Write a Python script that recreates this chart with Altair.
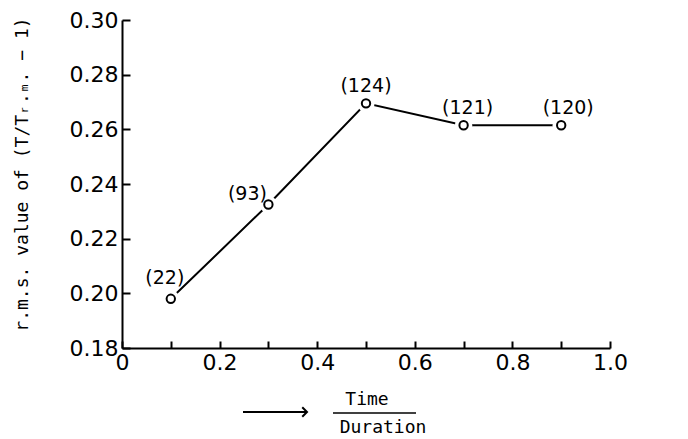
import altair as alt
import pandas as pd

# ---- data ----
x_vals = [0.1, 0.3, 0.5, 0.7, 0.9]
rms_vals = [0.198, 0.2325, 0.2695, 0.2615, 0.2615]
counts = ["(22)", "(93)", "(124)", "(121)", "(120)"]
x_tick_vals = [0.0, 0.1, 0.2, 0.3, 0.4, 0.5, 0.6, 0.7, 0.8, 0.9, 1.0]
x_label_vals = [0.0, 0.2, 0.4, 0.6, 0.8, 1.0]
y_tick_vals = [0.18, 0.20, 0.22, 0.24, 0.26, 0.28, 0.30]

# ---- styling ----
W, H = 488, 328
FONT = "DejaVu Sans"
MONO = "DejaVu Sans Mono"
label_dx = [-6, -21, 0, 4, 7]
label_dy = [-21, -11, -17, -17, -17]

df = pd.DataFrame({"x": x_vals, "y": rms_vals, "label": counts})
xs = alt.Scale(domain=[0, 1], nice=False, zero=False)
ys = alt.Scale(domain=[0.18, 0.30], nice=False, zero=False)

x_axis = alt.Axis(values=x_label_vals, ticks=False, grid=False,
                  domainColor="black", domainWidth=2,
                  labelFont=FONT, labelFontSize=22, labelColor="black",
                  labelPadding=4, labelFlush=False,
                  labelExpr="datum.value == 0 ? '0' : format(datum.value, '.1f')",
                  title=None)
y_axis = alt.Axis(values=y_tick_vals, ticks=False, grid=False,
                  domainColor="black", domainWidth=2,
                  labelFont=FONT, labelFontSize=22, labelColor="black",
                  labelPadding=4, labelFlush=False, format=".2f",
                  title="r.m.s. value of (T/Tᵣ.ₘ. − 1)",
                  titleFont=MONO, titleFontSize=18, titleFontWeight="normal",
                  titleColor="black", titleAngle=270, titleX=-100, titleY=154,
                  titleAlign="center", titleBaseline="middle")

# second pair of axes that only draws the inward-pointing ticks
tick_x_axis = alt.Axis(orient="bottom", values=x_tick_vals, offset=-7,
                       tickSize=7, tickWidth=2, tickColor="black",
                       labels=False, domain=False, grid=False, title=None)
tick_y_axis = alt.Axis(orient="left", values=y_tick_vals, offset=-8,
                       tickSize=8, tickWidth=2, tickColor="black",
                       labels=False, domain=False, grid=False, title=None)


def X(f):
    return alt.X(f + ":Q", scale=xs, axis=x_axis)


def Y(f):
    return alt.Y(f + ":Q", scale=ys, axis=y_axis)


base = alt.Chart(df)
line = base.mark_line(color="black", strokeWidth=2).encode(x=X("x"), y=Y("y"))
mask = base.mark_point(filled=True, color="white", opacity=1, size=300,
                       shape="circle").encode(x=X("x"), y=Y("y"))
pts = base.mark_point(filled=False, color="black", strokeWidth=2, size=70,
                      opacity=1, shape="circle").encode(x=X("x"), y=Y("y"))

labels = []
for i, c in enumerate(counts):
    labels.append(
        base.transform_filter(alt.datum.label == c)
        .mark_text(font=FONT, fontSize=19, color="black",
                   dx=label_dx[i], dy=label_dy[i])
        .encode(x=X("x"), y=Y("y"), text="label:N"))

one = alt.Chart(pd.DataFrame({"a": [0]}))
arrow = one.mark_rule(color="black", strokeWidth=2).encode(
    x=alt.value(121), x2=alt.value(184), y=alt.value(392))
head = one.mark_point(shape="M-1,-1L0,0L-1,1", filled=False, color="black",
                      strokeWidth=2, size=90, opacity=1).encode(
    x=alt.value(185), y=alt.value(392))
bar = one.mark_rule(color="black", strokeWidth=1.5).encode(
    x=alt.value(211), x2=alt.value(294), y=alt.value(393))
t_time = one.mark_text(text="Time", font=MONO, fontSize=18, color="black",
                       baseline="middle").encode(x=alt.value(245), y=alt.value(380))
t_dur = one.mark_text(text="Duration", font=MONO, fontSize=18, color="black",
                      baseline="middle").encode(x=alt.value(261), y=alt.value(408))

main = alt.layer(line, mask, pts, *labels, arrow, head, bar, t_time, t_dur)

ticks = base.mark_point(opacity=0).encode(
    x=alt.X("x:Q", scale=xs, axis=tick_x_axis),
    y=alt.Y("y:Q", scale=ys, axis=tick_y_axis))

chart = alt.layer(main, ticks).resolve_axis(
    x="independent", y="independent").properties(
    width=W, height=H,
    autosize=alt.AutoSizeParams(type="none"),
    padding={"left": 114, "top": 12, "right": 60, "bottom": 90},
).configure(background="white").configure_view(stroke=None)

chart.save("out.html", embed_options={"renderer": "svg", "actions": False})
